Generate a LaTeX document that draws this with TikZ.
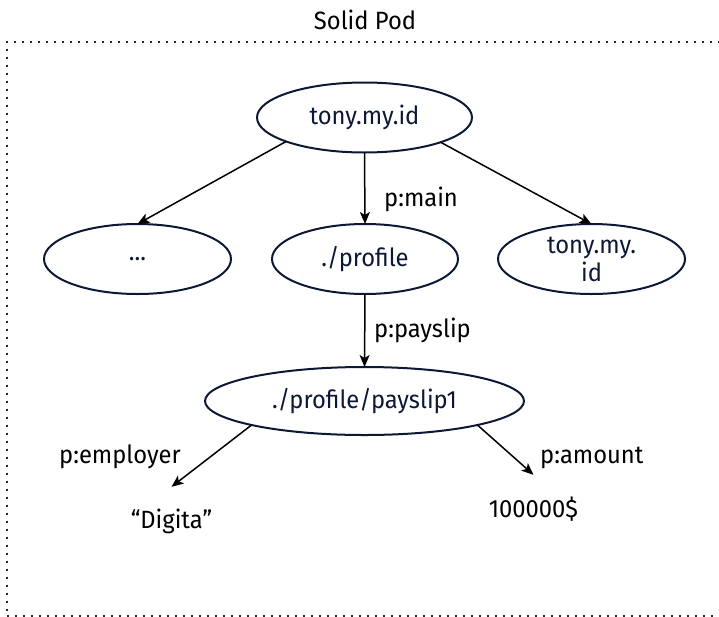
\documentclass[tikz,border=0pt]{standalone}
\usepackage{fontspec}
\setmainfont{Fira Sans}[FakeStretch=0.95]
\usetikzlibrary{arrows.meta,shapes.geometric}
\definecolor{navy}{RGB}{12,24,52}
\begin{document}
\begin{tikzpicture}[x=1pt,y=-1pt,
  every node/.style={font=\fontsize{25}{28}\selectfont},
  elli/.style={ellipse, draw=navy, line width=2pt, text=navy, inner sep=0pt, outer sep=0pt, align=center},
  lbl/.style={text=black, inner sep=0pt},
  arr/.style={line width=1.5pt, -{Stealth[length=12pt,width=10pt,inset=3pt]}},
  pod/.style={line width=2pt, dash pattern=on 2pt off 6pt, black!85}
]
\useasboundingbox (0,0) rectangle (719,616);
% dotted container
\coordinate (boxTR) at (760,42);
\coordinate (boxTL) at (6.7,42);
\coordinate (boxBL) at (6.7,616);
\coordinate (boxBR) at (760,616);
\draw[pod] (boxTR) -- (boxTL) -- (boxBL) -- (boxBR);
\node[lbl, anchor=base] (title) at (365,29) {Solid Pod};

% nodes
\node[elli, minimum width=215pt, minimum height=70pt] (tony) at (364.5,117.5) {tony.my.id};
\node[elli, minimum width=187pt, minimum height=70pt] (dots) at (137.5,259) {...};
\node[elli, minimum width=186pt, minimum height=70pt] (profile) at (365,259) {./profile};
\node[elli, minimum width=187pt, minimum height=70pt] (tony2) at (591.5,259) {tony.my.\\id};
\node[elli, minimum width=319pt, minimum height=68pt] (payslip) at (364.5,401) {./profile/payslip1};
\node[lbl, anchor=base, text height=41pt, text depth=5pt] (digita) at (171.5,528) {“Digita”};
\node[lbl, anchor=base, text height=42pt, text depth=5pt] (amount) at (533.5,517) {100000\$};

% edges
\draw[arr] (tony.197.6) -- (dots.north);
\draw[arr] (tony.south) -- (profile.north);
\draw[arr] (tony.-18) -- (tony2.north);
\draw[arr] (profile.south) -- (payslip.north);
\draw[arr] (payslip.192) -- (digita.north);
\draw[arr] (payslip.-12) -- (amount.north);

% edge labels
\node[lbl, anchor=base west] (lmain) at (384,206) {p:main};
\node[lbl, anchor=base west] (lpay) at (374,337) {p:payslip};
\node[lbl, anchor=base west] (lemp) at (59,463) {p:employer};
\node[lbl, anchor=base west] (lamt) at (540,463) {p:amount};
\end{tikzpicture}
\end{document}
